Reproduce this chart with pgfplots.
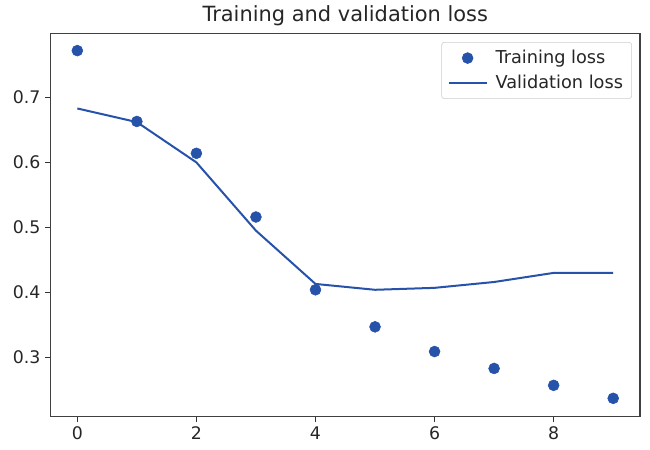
\documentclass[border=0pt]{standalone}
\usepackage{fontspec}
\setmainfont{DejaVu Sans}
\usepackage{pgfplots}
\pgfplotsset{compat=1.18}
\definecolor{mplblue}{RGB}{38,82,170}
\pgfplotsset{
    longline legend/.style={legend image code/.code={\draw[##1] (0cm,0cm) -- (1cm,0cm);}},
    dot legend/.style={legend image code/.code={\draw[##1] plot coordinates {(0.5cm,0cm)};}},
}
\begin{document}
\begin{tikzpicture}
% page = 650x450 px at 0.75pt per px, axis corner at (50.5px, 416.5px)
\path[use as bounding box] (-37.9pt,-25.1pt) rectangle (449.6pt,312.4pt);
\begin{axis}[
    scale only axis,
    width=442.1pt,
    height=287.6pt,
    xmin=-0.45, xmax=9.45,
    ymin=0.209, ymax=0.799,
    xtick={0,2,4,6,8},
    ytick={0.3,0.4,0.5,0.6,0.7},
    yticklabel style={/pgf/number format/fixed, /pgf/number format/precision=1},
    /pgf/number format/assume math mode=true,
    tick align=outside,
    tick pos=left,
    major tick length=4pt,
    tick style={black!80, line width=0.6pt},
    axis line style={black!75, line width=0.8pt},
    ticklabel style={font=\fontsize{13}{15}\selectfont, text=black!85},
    title={Training and validation loss},
    every axis title/.style={at={(0.5,1)}, anchor=base, yshift=9pt,
        font=\fontsize{15.7}{18}\selectfont, text=black!85},
    legend style={font=\fontsize{13.3}{16}\selectfont, text=black!85, draw=black!20,
        rounded corners=2pt, inner xsep=4.5pt, inner ysep=4pt, row sep=3pt, column sep=4pt,
        at={(0.9864,0.9765)}, anchor=north east},
    legend cell align=left,
]
\addplot[only marks, mark=*, mark size=4.1pt, mplblue, dot legend] coordinates {
    (0,0.772) (1,0.663) (2,0.614) (3,0.516) (4,0.404)
    (5,0.347) (6,0.309) (7,0.283) (8,0.257) (9,0.237)
};
\addlegendentry{Training loss}
\addplot[no marks, mplblue, line width=1.5pt, longline legend] coordinates {
    (0,0.683) (1,0.662) (2,0.600) (3,0.495) (4,0.413)
    (5,0.404) (6,0.407) (7,0.416) (8,0.430) (9,0.430)
};
\addlegendentry{Validation loss}
\end{axis}
\end{tikzpicture}
\end{document}
